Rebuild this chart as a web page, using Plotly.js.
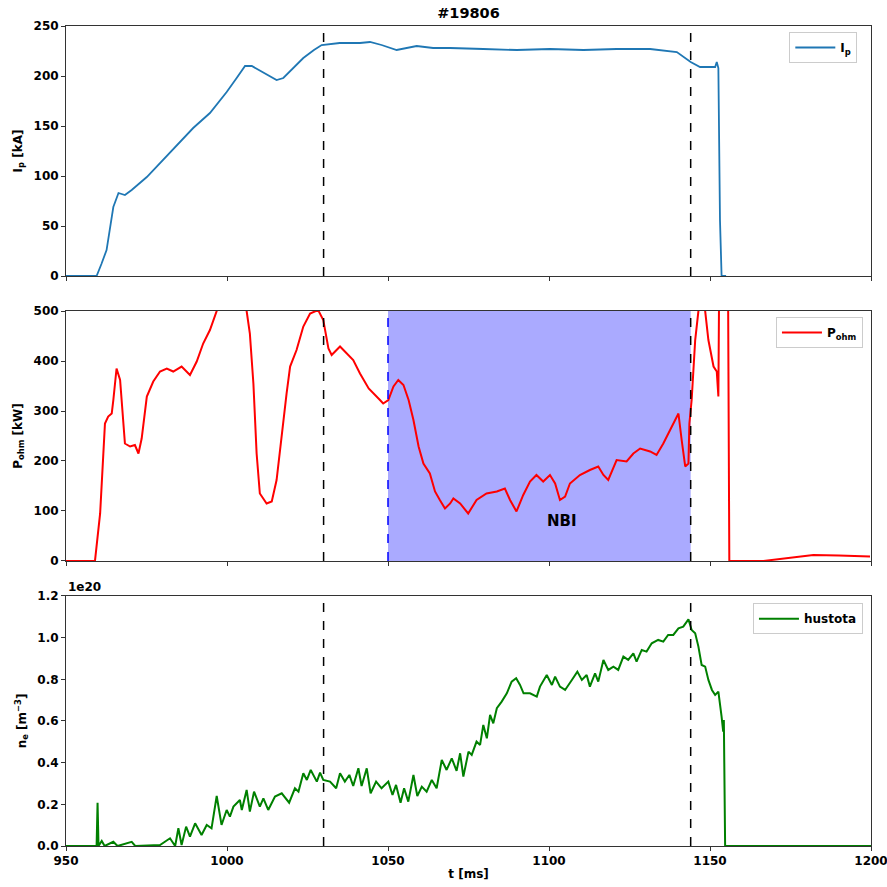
<!DOCTYPE html>
<html><head><meta charset="utf-8">
<script src="https://cdn.plot.ly/plotly-3.0.1.min.js"></script>
<style>body{margin:0;background:#fff}#c{width:887px;height:887px}</style>
</head><body><div id="c"></div>
<script>
// Ip [kA]
const t_ip = [950,959.5,961,962.6,964.7,966.3,968.3,970.4,975.1,982.3,989.5,994.7,999.9,1003,1005.6,1007.7,1011,1015.4,1017.5,1020.5,1023.7,1027,1029.4,1035,1041.3,1044.4,1048,1052.7,1058.9,1064,1069.3,1079.6,1090,1100.3,1110.7,1121,1131.4,1139.7,1141.7,1144,1146.9,1151.6,1152.1,1152.6,1153.1,1153.6,1155];
const ip   = [0,0,12,26,69,83,81,86,99,123,148,163,184,198,210,210,204,196,198,208,218,226,231,233,233,234,231,226,230,228,228,227,226,227,226,227,227,224,219,214,209,209,214,208,56,0,0];

// P_ohm [kW]
const t_p = [950,959.0,960.6,962.1,963.1,964.2,964.7,965.7,966.8,968.3,969.9,971.4,972.5,973.5,975.1,977.1,979.2,981.3,983.3,985.9,988.5,990.6,992.6,994.7,996.8,999,1003,1006.1,1007.1,1008.2,1009.2,1010.2,1012.3,1013.9,1015.4,1017,1018.5,1019.6,1021.6,1023.7,1025.8,1028.3,1029.9,1031.5,1032.5,1035.1,1037.2,1039.2,1041.3,1044,1047.5,1048.5,1050.1,1051.7,1053.2,1054.8,1056.4,1057.9,1059.5,1061,1063,1064.6,1066.1,1067.7,1069.3,1070.3,1072.4,1074.9,1077.5,1080.6,1083.8,1086.3,1087.9,1089.9,1092,1094.1,1096.1,1098.2,1100.3,1101.9,1103.4,1105,1106.5,1109.6,1112.7,1115.3,1116.9,1118.4,1121,1124.1,1126.2,1128.3,1131.4,1133.4,1135.5,1137.6,1140.2,1141.2,1142.3,1143.3,1143.6,1144.3,1145.4,1146.4,1147.4,1148.5,1149.5,1151.1,1152.1,1152.6,1153.0,1155.5,1156,1166.6,1174,1182.1,1190,1199.7];
const pohm = [0,0,95,275,289,295,322,385,362,235,229,232,215,245,329,359,379,385,379,389,372,399,435,462,500,560,560,500,455,355,215,135,115,119,162,255,335,389,422,469,495,502,482,425,412,429,415,402,375,345,322,315,322,349,362,352,322,282,229,195,175,139,122,105,115,125,115,95,122,135,139,145,122,99,132,159,172,159,172,155,122,129,155,172,182,189,172,162,202,199,215,225,219,212,235,262,295,242,189,195,275,322,442,500,560,500,442,389,379,329,700,700,0,0,6,12,11,9];

// n_e [1e20 m^-3]
const t_ne = [950,959.5,959.8,960.1,961.1,962,964.7,966,970.4,971.5,979.2,982.3,983.9,984.9,985.9,987.3,988.5,990.1,992.1,993.7,995.2,996.8,998.3,999.9,1000.9,1002,1004,1004.6,1006.1,1007.1,1008.4,1010.2,1011.3,1012.8,1014.9,1017,1019.3,1021.1,1022.2,1023.7,1024.8,1026,1027.9,1028.9,1029.9,1032,1033.9,1035.1,1036.6,1038,1039.2,1040.8,1041.8,1043.4,1044.6,1046.3,1048,1050.1,1051.4,1052.5,1053.9,1055,1056.3,1057.9,1059.1,1060.5,1062,1063.6,1065.1,1066.7,1068.2,1069.8,1071.3,1072.4,1073.4,1075,1076,1077.5,1078.6,1079.6,1080.7,1081.7,1082.7,1083.8,1085.3,1086.9,1088.4,1089.8,1091,1092.1,1094.1,1096.2,1097.2,1099.3,1100.9,1101.9,1103.4,1105,1107.1,1108.8,1110.2,1111.7,1112.7,1114.3,1115.3,1116.9,1118.4,1120,1121.5,1123.1,1124.6,1126.2,1127.2,1128.8,1130.3,1131.9,1133.9,1135.5,1137,1138.6,1140.2,1141.7,1143.3,1144.3,1145.4,1146.4,1147.4,1148.5,1149.5,1150.6,1151.6,1152.6,1153.6,1154.1,1154.3,1154.7,1200];
const ne   = [0,0,0.208,0,0.024,0,0.02,0,0.02,0,0.005,0.037,0,0.085,0.005,0.093,0.045,0.109,0.053,0.101,0.085,0.24,0.101,0.173,0.141,0.189,0.221,0.173,0.269,0.165,0.261,0.189,0.229,0.173,0.237,0.253,0.208,0.277,0.261,0.349,0.317,0.365,0.309,0.352,0.317,0.309,0.277,0.349,0.309,0.341,0.288,0.373,0.288,0.373,0.253,0.309,0.277,0.309,0.245,0.293,0.208,0.277,0.213,0.341,0.24,0.285,0.261,0.317,0.277,0.413,0.365,0.421,0.361,0.445,0.333,0.453,0.437,0.501,0.485,0.581,0.517,0.629,0.589,0.661,0.693,0.733,0.789,0.805,0.773,0.733,0.733,0.717,0.765,0.821,0.773,0.813,0.765,0.749,0.797,0.837,0.797,0.821,0.765,0.829,0.789,0.893,0.845,0.861,0.845,0.909,0.893,0.925,0.885,0.941,0.933,0.973,0.989,0.981,1.013,1.013,1.045,1.053,1.088,1.037,1.021,0.957,0.869,0.861,0.797,0.749,0.725,0.741,0.621,0.549,0.605,0,0];

const xTicks = [950,1000,1050,1100,1150,1200];
const ipTicks = [0,50,100,150,200,250];
const pTicks = [0,100,200,300,400,500];
const neTicks = [0,0.2,0.4,0.6,0.8,1.0,1.2];
const markers = [1030,1144];
const nbi = [1050,1144];

const F = {family:'DejaVu Sans', size:12, color:'#000', weight:'bold'};
function xa(anchor, labels){
  return {range:[950,1200], anchor:anchor, tickvals:xTicks, showticklabels:labels, ticks:'outside', ticklen:4, tickcolor:'#333',
    ticklabeloverflow:'allow',
    showline:true, mirror:true, linecolor:'#333', linewidth:1, showgrid:false, zeroline:false, tickfont:F, matches: anchor==='y3'?undefined:'x3'};
}
function ya(dom, range, ticks, title, anchor, fmt){
  return {domain:dom, range:range, anchor:anchor, tickvals:ticks, tickformat:fmt, ticks:'outside', ticklen:4, tickcolor:'#333',
    showline:true, mirror:true, linecolor:'#333', linewidth:1, showgrid:false, zeroline:false, tickfont:F,
    title:{text:title, font:F, standoff:8}};
}
const shapes = [];
shapes.push({type:'rect', xref:'x2', yref:'y2 domain', x0:nbi[0], x1:nbi[1], y0:0, y1:1, fillcolor:'#aaaaff', line:{width:0}, layer:'below'});
shapes.push({type:'line', xref:'x2', yref:'y2 domain', x0:nbi[0], x1:nbi[0], y0:0, y1:1, line:{color:'#0000ff', width:1.5, dash:'dash'}});
[['x','y'],['x2','y2'],['x3','y3']].forEach(([xr,yr])=>{
  markers.forEach(m=>shapes.push({type:'line', xref:xr, yref:yr+' domain', x0:m, x1:m, y0:0, y1:1, line:{color:'#000', width:1.5, dash:'dash'}}));
});

const data = [
  {x:t_ip, y:ip, type:'scatter', mode:'lines', name:'I<sub>p</sub>', line:{color:'#1f77b4', width:1.8}, xaxis:'x', yaxis:'y', legend:'legend'},
  {x:t_p, y:pohm, type:'scatter', mode:'lines', name:'P<sub>ohm</sub>', line:{color:'#ff0000', width:2}, xaxis:'x2', yaxis:'y2', legend:'legend2'},
  {x:t_ne, y:ne, type:'scatter', mode:'lines', name:'hustota', line:{color:'#008000', width:2}, xaxis:'x3', yaxis:'y3', legend:'legend3'}
];
const legBase = {xanchor:'right', yanchor:'top', bgcolor:'rgba(255,255,255,0.9)', bordercolor:'#cccccc', borderwidth:1, font:F, itemwidth:40};
const layout = {
  width:887, height:887, margin:{l:66, r:16, t:26, b:41}, paper_bgcolor:'#fff', plot_bgcolor:'#fff', font:F,
  title:{text:'#19806', font:{family:'DejaVu Sans', size:14.5, weight:'bold', color:'#000'}, x:0.5, xref:'paper', y:0.985, yanchor:'middle'},
  showlegend:true,
  xaxis: xa('y', false),
  xaxis2: xa('y2', false),
  xaxis3: Object.assign(xa('y3', true), {title:{text:'t [ms]', font:F, standoff:2}}),
  yaxis: ya([0.6951,1], [0,250], ipTicks, 'I<sub>p</sub> [kA]', 'x'),
  yaxis2: ya([0.3476,0.6524], [0,500], pTicks, 'P<sub>ohm</sub> [kW]', 'x2'),
  yaxis3: ya([0,0.3049], [0,1.2], neTicks, 'n<sub>e</sub> [m<sup>−3</sup>]', 'x3', '.1f'),
  legend: Object.assign({x:0.983, y:0.9927}, legBase),
  legend2: Object.assign({x:0.99, y:0.645}, legBase),
  legend3: Object.assign({x:0.99, y:0.296}, legBase),
  shapes: shapes,
  annotations: [
    {text:'NBI', x:1104, y:80, xref:'x2', yref:'y2', showarrow:false, font:{family:'DejaVu Sans', size:15, weight:'bold', color:'#000'}},
    {text:'1e20', x:0, xref:'paper', y:0.3049, yref:'paper', xanchor:'left', yanchor:'bottom', showarrow:false, font:F, yshift:0}
  ]
};
Plotly.newPlot('c', data, layout, {displayModeBar:false, staticPlot:true});
</script></body></html>
